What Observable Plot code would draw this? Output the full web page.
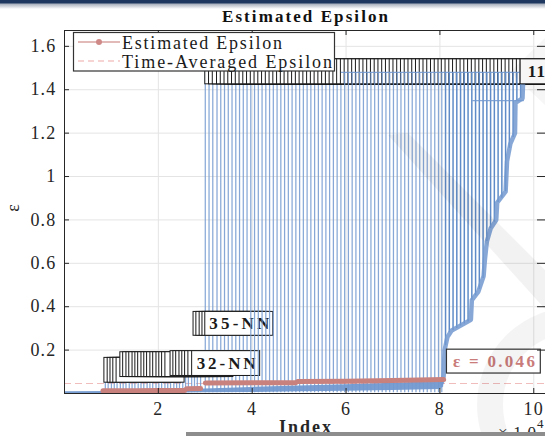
<!DOCTYPE html>
<html><head><meta charset="utf-8">
<script src="https://cdn.jsdelivr.net/npm/d3@7"></script>
<script src="https://cdn.jsdelivr.net/npm/@observablehq/plot@0.6"></script>
<style>
html,body{margin:0;padding:0;background:#fff;overflow:hidden;width:545px;height:436px;}
#wrap{position:relative;width:545px;height:436px;overflow:hidden;}
#topbar{position:absolute;left:0;top:0;width:545px;height:9px;background:linear-gradient(#1f3860 0,#1f3860 3px,#aab2be 4px,#ffffff 9px);}
#botbar{position:absolute;left:186px;top:432px;width:359px;height:4px;background:#8d8d8d;}
svg text{font-family:"Liberation Serif","Times New Roman",serif;}
</style></head><body><div id="wrap"><div id="chart"></div><div id="topbar"></div><div id="botbar"></div></div>
<script>
// ---------- data (x in units of 10^4, y = epsilon) ----------
const xTicks = [2, 4, 6, 8, 10];
const yTicks = [0.2, 0.4, 0.6, 0.8, 1, 1.2, 1.4, 1.6];
const avgEps = 0.046;
const peakEps = 1.48;
const bandIdx  = [0, 1, 2, 3, 4, 5, 6, 7, 8, 8.08];
const bandLow  = [0, 0, 0.001, 0.003, 0.005, 0.008, 0.010, 0.014, 0.018, 0.030];
const bandHigh = [0.008, 0.009, 0.014, 0.021, 0.028, 0.034, 0.040, 0.047, 0.055, 0.062];
const shortEnd = [0.87,0.93,1.00,1.06,1.12,1.19,1.25,1.31,1.38,1.44,1.50,1.57,1.63,1.69,1.76,1.82,1.88,1.95,2.01,2.07,2.14,2.20,2.26,2.33,2.39,2.45,2.52,2.58,2.64,2.71,2.77,2.83,2.90];
const shortTop = 0.1;
const curveEnd = [3.00,3.08,3.16,3.25,3.33,3.41,3.49,3.57,3.65,3.73,3.81,3.89,3.97,4.05,4.13,4.21,4.29,4.37,4.45,4.53,4.61,4.69,4.77,4.85,4.93,5.01,5.09,5.17,5.25,5.33,5.41,5.49,5.57,5.65,5.73,5.81,5.89,5.97,6.05,6.13,6.21,6.29,6.37,6.45,6.53,6.61,6.69,6.77,6.85,6.93,7.01,7.09,7.17,7.25,7.33,7.41,7.49,7.57,7.65,7.73,7.81,7.89,7.97,8.04];
const tailEnd = [8.12,8.20,8.28,8.36,8.44,8.52,8.60,8.68,8.76,8.84,8.92,9.00,9.08,9.16,9.24,9.32,9.40,9.48,9.56,9.64,9.72];
const tailLow = [0.22,0.28,0.29,0.30,0.31,0.32,0.33,0.43,0.45,0.48,0.53,0.70,0.76,0.79,0.88,0.90,0.93,1.13,1.18,1.35,1.36];
const envIdx = [8.04,8.08,8.10,8.16,8.25,8.50,8.66,8.68,8.82,8.93,8.96,9.00,9.08,9.20,9.22,9.40,9.43,9.50,9.60,9.61,9.76,9.78];
const envEps = [0.05,0.08,0.20,0.26,0.29,0.32,0.34,0.43,0.47,0.54,0.62,0.70,0.76,0.80,0.88,0.93,1.07,1.15,1.20,1.34,1.36,1.48];
const stepIdx = [8.70, 9.78];
const stepEps = [1.35, 1.35];
const estSeg = [1,1,1,1, 2,2, 3,3,3, 4,4,4,4];
const estIdx = [0.82,1.50,2.00,2.56, 2.60,2.90, 3.00,4.00,4.93, 4.97,6.00,7.00,8.08];
const estEps = [0.013,0.013,0.014,0.014, 0.022,0.023, 0.048,0.049,0.050, 0.055,0.057,0.060,0.064];
const lbl32Idx = [0.85,0.92,0.98,1.04,1.11, 1.19,1.25,1.32,1.38,1.45,1.51,1.57,1.64,1.70,1.76,1.83,1.89,1.96,2.02,2.08,2.15, 2.26,2.32,2.38,2.45,2.51,2.57,2.64, 2.72];
const lbl32Eps = [0.107,0.107,0.107,0.107,0.107, 0.133,0.133,0.133,0.133,0.133,0.133,0.133,0.133,0.133,0.133,0.133,0.133,0.133,0.133,0.133,0.133, 0.138,0.138,0.138,0.138,0.138,0.138,0.138, 0.138];
const lbl35Idx = [2.75,2.81,2.88,2.94,3.00];
const lbl35Eps = [0.321,0.321,0.321,0.321,0.321];
const topLblEps = 1.4825;
const nnLabels = ["32-NN", "35-NN", "110-NN"];
const epsNoteText = ["ε = 0.046"];
const epsNoteIdx = [8.15];
const epsNoteEps = [0.147];

// ---------- build tables ----------
const blue = "#7299d0";
const band = bandIdx.map((x, i) => ({x, lo: bandLow[i], hi: bandHigh[i]}));
const env = envIdx.map((x, i) => ({x, y: envEps[i]}));
const step = stepIdx.map((x, i) => ({x, y: stepEps[i]}));
const est = estIdx.map((x, i) => ({x, y: estEps[i], s: estSeg[i]}));
const lbl32 = lbl32Idx.map((x, i) => ({x, y: lbl32Eps[i]}));
const lbl35 = lbl35Idx.map((x, i) => ({x, y: lbl35Eps[i]}));
const topLbl = curveEnd.concat(tailEnd).map(x => ({x, y: topLblEps}));
const lastTop = topLbl[topLbl.length - 1];
const notes = epsNoteText.map((t, i) => ({t, x: epsNoteIdx[i], y: epsNoteEps[i]}));

const xMax = 10.25, yMax = 1.673;
const kx = 481 / xMax, ky = 363 / yMax;   // px per unit
const bw = 68 / kx, bh = 12.4 / ky;
const boxOpts = (w, h) => ({x1: d => d.x, x2: d => d.x + w, y1: d => d.y - h, y2: d => d.y + h,
  fill: "white", stroke: "#1a1a1a", strokeWidth: 1});
const lineStyle = {stroke: blue, strokeOpacity: 0.85, strokeWidth: 1.25};
const rule = (arr) => Plot.ruleX(arr, {x: d => d, y1: () => 0.004, y2: () => peakEps, ...lineStyle});

const svg = Plot.plot({
  width: 545, height: 436,
  marginLeft: 64, marginRight: 0, marginTop: 30, marginBottom: 43,
  x: {domain: [0, xMax], axis: null},
  y: {domain: [0, yMax], axis: null},
  style: {fontFamily: "'Liberation Serif', serif", fontSize: "18px", background: "white", color: "#262626"},
  marks: [
    Plot.ruleX(xTicks, {stroke: "#e4e4e4"}),
    Plot.ruleY(yTicks, {stroke: "#e4e4e4"}),
    Plot.ruleY([avgEps], {stroke: "#f0bcbc", strokeWidth: 1.2, strokeDasharray: "7,4"}),
    Plot.ruleX(shortEnd, {x: d => d, y1: () => 0.004, y2: () => shortTop, ...lineStyle}),
    rule(curveEnd.filter(x => x < 3.9)),
    Plot.rect(lbl32, boxOpts(bw, bh)),
    Plot.rect(lbl35, boxOpts(bw, 0.055)),
    Plot.text([lbl32[lbl32.length - 1]], {x: d => d.x + bw / 2, y: "y", text: () => nnLabels[0], fontWeight: "bold", fontSize: 17, fill: "#1a1a1a"}),
    Plot.text([lbl35[lbl35.length - 1]], {x: d => d.x + bw / 2, y: "y", text: () => nnLabels[1], fontWeight: "bold", fontSize: 17, fill: "#1a1a1a"}),
    rule(curveEnd.filter(x => x >= 3.9 && x < 5.9)),
    Plot.rect(topLbl, boxOpts(1.75, 0.0575)),
    rule(curveEnd.filter(x => x >= 5.9)),
    Plot.ruleX(tailEnd, {x: d => d, y1: (d, i) => tailLow[i], y2: () => peakEps, stroke: "#5f8cc8", strokeWidth: 1.5}),
    Plot.ruleY([peakEps], {x1: () => 5.9, x2: () => 9.72, ...lineStyle}),
    Plot.line(step, {x: "x", y: "y", ...lineStyle}),
    Plot.line(env, {x: "x", y: "y", stroke: blue, strokeWidth: 4.5, strokeOpacity: 0.85}),
    Plot.areaY(band, {x: "x", y1: "lo", y2: "hi", fill: blue, fillOpacity: 0.95}),
    Plot.rect([lastTop], boxOpts(1.75, 0.0575)),
    Plot.text([lastTop], {x: "x", y: "y", dx: 7, textAnchor: "start", text: () => nnLabels[2], fontWeight: "bold", fontSize: 17, fill: "#1a1a1a"}),
    Plot.line(est, {x: "x", y: "y", z: "s", stroke: "#c9817e", strokeWidth: 5, strokeLinecap: "round"}),
    Plot.rect(notes, {x1: "x", x2: d => d.x + 2.0, y1: d => d.y - 0.055, y2: d => d.y + 0.055, fill: "white", stroke: "#333", strokeWidth: 1.2}),
    Plot.text(notes, {x: d => d.x + 1.0, y: "y", text: "t", fontWeight: "bold", fontSize: 17, fill: "#c97c7a"}),
    // axes box (MATLAB style, inward ticks)
    Plot.ruleX([0], {stroke: "#262626"}),
    Plot.ruleY([0], {stroke: "#262626"}),
    Plot.ruleY([yMax], {stroke: "#262626"}),
    Plot.ruleX(xTicks, {y1: () => 0, y2: () => 5 / ky, stroke: "#262626"}),
    Plot.ruleX(xTicks, {y1: () => yMax - 5 / ky, y2: () => yMax, stroke: "#262626"}),
    Plot.ruleY(yTicks, {x1: () => 0, x2: () => 5 / kx, stroke: "#262626"}),
    Plot.ruleY(yTicks, {x1: () => xMax - 8 / kx, x2: () => xMax, stroke: "#262626"}),
    Plot.text(xTicks, {x: d => d, y: () => 0, dy: 16, text: d => String(d), fontSize: 18, fill: "#262626"}),
    Plot.text(yTicks, {x: () => 0, y: d => d, dx: -8, textAnchor: "end", text: d => String(d), fontSize: 18, fill: "#262626"})
  ]
});
document.getElementById("chart").append(svg);
const S = d3.select(svg);
const fit = {"32-NN": 59, "35-NN": 60, "ε = 0.046": 82};
S.selectAll("text").each(function() {
  const t = this.textContent;
  if (fit[t]) { this.setAttribute("textLength", fit[t]); this.setAttribute("lengthAdjust", "spacing"); }
  else this.style.letterSpacing = "1.2px";
});

const serif = "'Liberation Serif', serif";
const addText = (x, y, txt, size, opts = {}) => {
  const t = S.append("text").attr("x", x).attr("y", y).attr("text-anchor", opts.anchor || "start")
    .attr("font-family", serif).attr("font-size", size).attr("fill", opts.fill || "#1a1a1a")
    .attr("font-weight", opts.bold ? "bold" : "normal").text(txt);
  if (opts.len) t.attr("textLength", opts.len).attr("lengthAdjust", "spacing");
  if (opts.transform) t.attr("transform", opts.transform);
  return t;
};
addText(305, 22, "Estimated Epsilon", 17, {anchor: "middle", bold: true, len: 166, fill: "#111"});
addText(305, 433, "Index", 18, {anchor: "middle", bold: true, len: 52, fill: "#262626"});
addText(498, 438, "×10", 17, {fill: "#262626", len: 38});
addText(537, 428, "4", 13, {fill: "#262626"});
addText(0, 0, "ε", 18, {anchor: "middle", fill: "#262626", transform: "translate(19,208) rotate(-90)"});
const L = S.append("g");
L.append("rect").attr("x", 73.5).attr("y", 32.5).attr("width", 261).attr("height", 38.5)
  .attr("fill", "white").attr("stroke", "#333").attr("stroke-width", 1.2);
L.append("line").attr("x1", 78).attr("x2", 120).attr("y1", 42).attr("y2", 42).attr("stroke", "#d9a4a2").attr("stroke-width", 1.6);
L.append("circle").attr("cx", 99).attr("cy", 42).attr("r", 3).attr("fill", "#cf8a88");
L.append("line").attr("x1", 78).attr("x2", 120).attr("y1", 61).attr("y2", 61).attr("stroke", "#f3c6c6").attr("stroke-width", 1.4).attr("stroke-dasharray", "6,4");
addText(122, 49, "Estimated Epsilon", 18, {len: 160});
addText(122, 67.5, "Time-Averaged Epsilon", 18, {len: 210});
S.append("polygon").attr("points", "388,135 408,133 545,270 545,309").attr("fill", "#000").attr("fill-opacity", 0.05);
S.append("polygon").attr("points", "510,72 545,38 545,105").attr("fill", "#000").attr("fill-opacity", 0.035);
S.append("circle").attr("cx", 575).attr("cy", 405).attr("r", 85).attr("fill", "none")
  .attr("stroke", "#000").attr("stroke-opacity", 0.045).attr("stroke-width", 26);
</script></body></html>
